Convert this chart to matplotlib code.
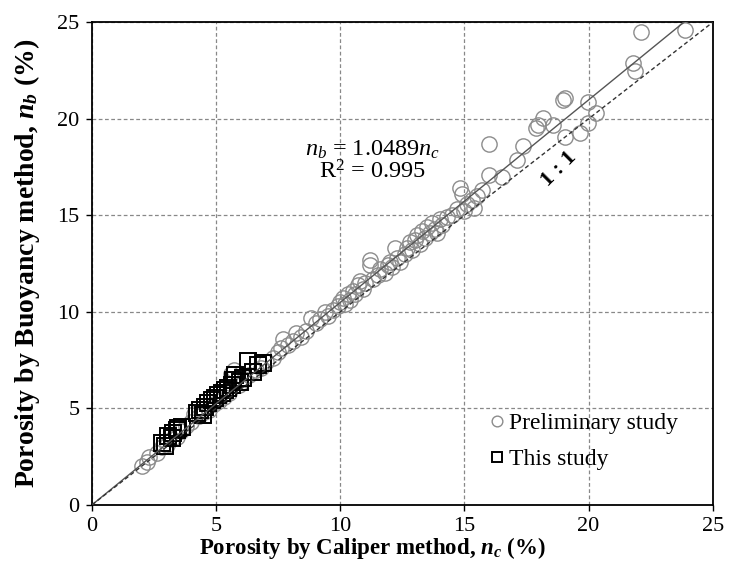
import matplotlib
matplotlib.use("Agg")
import matplotlib.pyplot as plt
import numpy as np

plt.rcParams['font.family'] = ['Liberation Serif', 'DejaVu Serif']
plt.rcParams['mathtext.fontset'] = 'custom'
plt.rcParams['mathtext.rm'] = 'Liberation Serif'
plt.rcParams['mathtext.it'] = 'Liberation Serif:italic'
plt.rcParams['mathtext.bf'] = 'Liberation Serif:bold'
plt.rcParams['mathtext.bfit'] = 'Liberation Serif:bold:italic'

# Preliminary study: caliper porosity (n_c) vs buoyancy porosity (n_b), %
prelim_nc = [2.0, 2.2, 2.3, 2.6, 2.8, 3.0, 3.2, 3.4, 3.6, 3.8, 4.0, 4.1, 4.3, 4.5,
             4.7, 4.9, 5.1, 5.3, 5.5, 5.6, 5.7, 5.9, 6.1, 6.3, 6.6, 6.8, 7.0, 7.3,
             7.5, 7.6, 7.7, 7.9, 8.1, 8.2, 8.4, 8.6, 8.8, 9.0, 9.2, 9.4, 9.5, 9.7,
             9.9, 10.0, 10.1, 10.2, 10.3, 10.4, 10.5, 10.6, 10.7, 10.8, 10.9, 11.0,
             11.2, 11.2, 11.3, 11.5, 11.6, 11.8, 11.9, 12.0, 12.1, 12.2, 12.3, 12.4,
             12.6, 12.7, 12.8, 12.9, 13.0, 13.1, 13.2, 13.3, 13.4, 13.5, 13.6, 13.7,
             13.8, 13.9, 14.0, 14.1, 14.3, 14.5, 14.7, 14.8, 14.9, 15.0, 15.1, 15.3,
             15.4, 15.5, 15.7, 16.0, 16.0, 16.5, 17.1, 17.35, 17.9, 17.96, 18.16,
             18.56, 19.04, 19.04, 18.96, 19.65, 19.97, 19.97, 20.3, 21.8, 21.86,
             22.13, 23.87]
prelim_nb = [2.0, 2.2, 2.45, 2.7, 3.0, 3.1, 3.4, 3.5, 3.8, 4.1, 4.3, 4.7, 4.6, 4.8,
             4.9, 5.2, 5.4, 5.6, 5.8, 6.8, 7.0, 6.2, 6.5, 6.7, 7.0, 7.1, 7.4, 7.6,
             7.9, 8.1, 8.6, 8.3, 8.5, 8.9, 8.7, 9.0, 9.7, 9.4, 9.6, 10.0, 9.8, 10.1,
             10.3, 10.5, 10.7, 10.4, 10.9, 10.6, 11.1, 10.9, 11.4, 11.6, 11.2, 11.5,
             12.7, 12.4, 11.7, 11.9, 12.2, 12.0, 12.4, 12.6, 12.3, 13.3, 12.8, 12.6,
             13.0, 13.3, 13.6, 13.2, 13.7, 14.0, 13.5, 14.2, 13.8, 14.4, 14.1, 14.6,
             14.3, 14.1, 14.8, 14.5, 14.9, 15.0, 15.3, 16.4, 16.1, 15.2, 15.6, 15.8,
             15.4, 16.0, 16.3, 17.1, 18.7, 17.0, 17.86, 18.6, 19.5, 19.67, 20.03,
             19.67, 19.05, 21.1, 20.96, 19.25, 20.87, 19.8, 20.3, 22.9, 22.5,
             24.5, 24.58]

# This study
this_nc = [2.81, 2.92, 3.07, 3.21, 3.27, 3.4, 3.47, 3.61, 4.21, 4.35, 4.48, 4.55,
           4.68, 4.82, 4.95, 5.08, 5.22, 5.35, 5.49, 5.62, 5.69, 5.76, 5.96, 6.09,
           6.27, 6.49, 6.70, 6.90]
this_nb = [3.19, 3.05, 3.54, 3.45, 3.71, 3.88, 3.97, 4.05, 4.75, 4.92, 4.66, 5.09,
           5.26, 5.43, 5.52, 5.69, 5.78, 5.95, 6.04, 6.21, 6.47, 6.73, 6.38, 6.56,
           7.47, 6.90, 7.25, 7.33]

slope = 1.0489
r2 = 0.995
axis_max = 25
ticks = [0, 5, 10, 15, 20, 25]

fig = plt.figure(figsize=(7.31, 5.71), dpi=100)
ax = fig.add_axes([0.126, 0.116, 0.849, 0.845])

ax.plot(prelim_nc, prelim_nb, linestyle='none', marker='o', markersize=11,
        markerfacecolor='none', markeredgecolor='#8c8c8c', markeredgewidth=1.0,
        label='Preliminary study', zorder=3)
ax.plot(this_nc, this_nb, linestyle='none', marker='s', markersize=11,
        markerfacecolor='none', markeredgecolor='black', markeredgewidth=1.4,
        label='This study', zorder=4)

# regression line through the origin and the 1:1 reference line
fit_x = np.array([0, axis_max / slope])
ax.plot(fit_x, slope * fit_x, color='#555555', lw=1.0, zorder=5)
ax.plot([0, axis_max], [0, axis_max], color='#333333', lw=1.0,
        linestyle=(0, (3, 2)), zorder=5)

ax.set_xlim(0, axis_max)
ax.set_ylim(0, axis_max)
ax.set_xticks(ticks)
ax.set_yticks(ticks)
ax.tick_params(labelsize=16, length=4, width=1, direction='out', pad=5)
ax.grid(True, color='#888888', linestyle=(0, (3, 2)), lw=0.9)
ax.set_axisbelow(True)
for sp in ax.spines.values():
    sp.set_linewidth(1.3)

ax.set_xlabel(r'Porosity by Caliper method, $\mathbfit{n_c}$ (%)',
              fontsize=16.5, fontweight='bold')
ax.xaxis.set_label_coords(0.451, -0.063, transform=ax.transAxes)
ax.xaxis.label.set_va('top')
ax.set_ylabel(r'Porosity by Buoyancy method, $\mathbfit{n_b}$ (%)',
              fontsize=20, fontweight='bold', labelpad=11)

ax.text(11.3, 18.4, r'$n_b$ = %.4f$n_c$' % slope, fontsize=17.5,
        ha='center', va='center')
ax.text(11.3, 17.25, r'R$^2$ = %.3f' % r2, fontsize=17.5,
        ha='center', va='center')
ax.text(18.8, 17.4, '1 : 1', fontsize=16, fontweight='bold',
        rotation=45, ha='center', va='center')

leg = ax.legend(loc='upper left', bbox_to_anchor=(0.607, 0.235), frameon=False,
                fontsize=17, markerscale=0.7, handlelength=0.6,
                handletextpad=0.2, labelspacing=0.62)

fig.savefig('out.png', dpi=100)
